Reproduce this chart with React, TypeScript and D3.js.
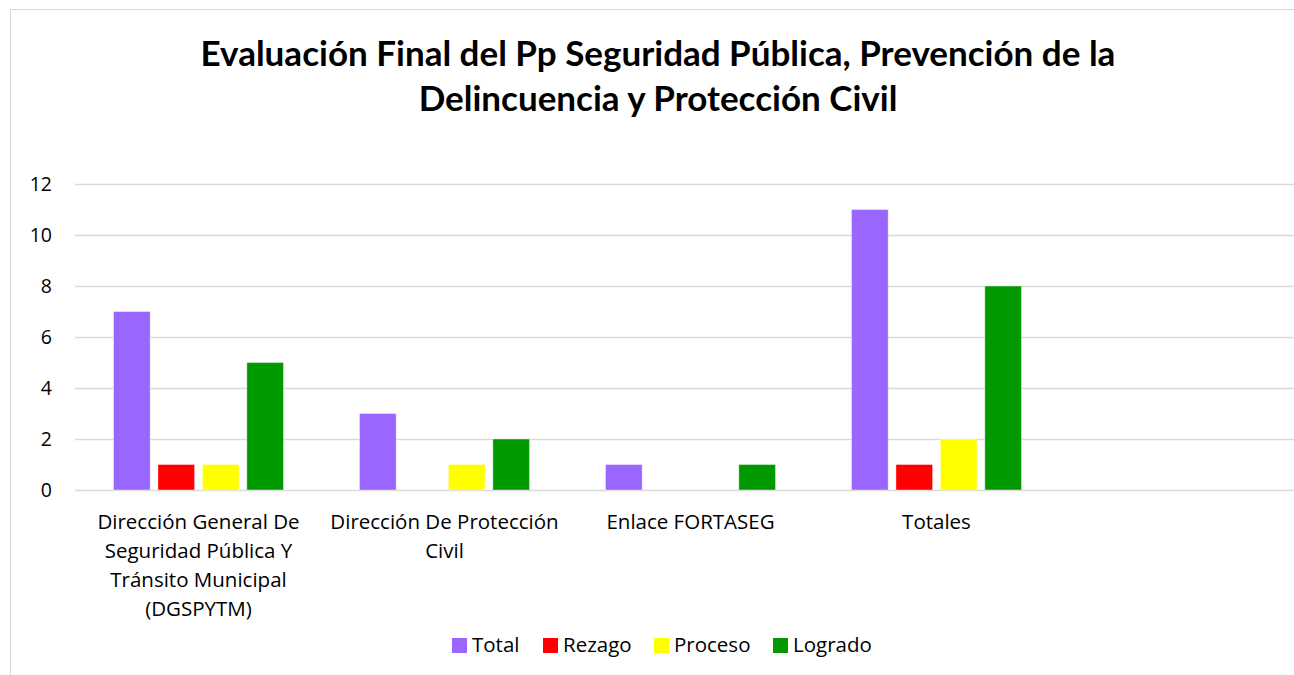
import React, { useRef, useEffect } from 'react';
import * as d3 from 'd3';

const categories = [
  'Dirección General De Seguridad Pública Y Tránsito Municipal (DGSPYTM)',
  'Dirección De Protección Civil',
  'Enlace FORTASEG',
  'Totales',
  '',
];
// wrapped tick labels, as on the picture
const categoryLines = [
  ['Dirección General De', 'Seguridad Pública Y', 'Tránsito Municipal', '(DGSPYTM)'],
  ['Dirección De Protección', 'Civil'],
  ['Enlace FORTASEG'],
  ['Totales'],
  [],
];
const seriesNames = ['Total', 'Rezago', 'Proceso', 'Logrado'];
const seriesColors = ['#9966FF', '#FF0000', '#FFFF00', '#009900'];
const totalValues = [7, 3, 1, 11];
const rezagoValues = [1, 0, 0, 1];
const procesoValues = [1, 1, 0, 2];
const logradoValues = [5, 2, 1, 8];
const yTicks = [0, 2, 4, 6, 8, 10, 12];
const titleLines = [
  'Evaluación Final del Pp Seguridad Pública, Prevención de la',
  'Delincuencia y Protección Civil',
];

const W = 1294;
const H = 675;
const FONT = '"Open Sans", sans-serif';
const TITLE_FONT = 'Lato, "Open Sans", sans-serif';

const App = () => {
  const svgRef = useRef<SVGSVGElement>(null);

  useEffect(() => {
    const svg = d3.select(svgRef.current);
    svg.selectAll('*').remove();

    const values = [totalValues, rezagoValues, procesoValues, logradoValues];

    // chart frame (cut off on the right and bottom)
    svg.append('rect')
      .attr('x', 10.5).attr('y', 9.5)
      .attr('width', W + 20).attr('height', H + 20)
      .attr('fill', '#fff')
      .attr('stroke', '#d9d9d9');

    // title
    svg.append('text')
      .attr('text-anchor', 'middle')
      .attr('font-family', TITLE_FONT)
      .attr('font-weight', 'bold')
      .attr('font-size', 35)
      .attr('fill', '#000')
      .selectAll('tspan')
      .data(titleLines)
      .enter().append('tspan')
      .attr('x', 658)
      .attr('y', (d, i) => 66 + i * 45)
      .text(d => d);

    const y = d3.scaleLinear().domain([0, 12]).range([490, 184]);
    const x0 = d3.scaleBand().domain(categories.map((c, i) => String(i))).range([75.5, 1305.5]);
    const x1 = d3.scaleBand().domain(seriesNames).range([38, 208]).paddingInner(0.175);

    // gridlines
    svg.append('g')
      .selectAll('line')
      .data(yTicks)
      .enter().append('line')
      .attr('x1', 75).attr('x2', W)
      .attr('y1', d => Math.round(y(d)) + 0.5)
      .attr('y2', d => Math.round(y(d)) + 0.5)
      .attr('stroke', '#d9d9d9')
      .attr('stroke-width', 1.3);

    // y tick labels
    svg.append('g')
      .selectAll('text')
      .data(yTicks)
      .enter().append('text')
      .attr('x', 52)
      .attr('y', d => y(d) + 7)
      .attr('text-anchor', 'end')
      .attr('font-family', FONT)
      .attr('font-size', 19.5)
      .attr('fill', '#000')
      .text(d => d);

    // bars
    const groups = svg.append('g')
      .selectAll('g')
      .data(categories.slice(0, 4))
      .enter().append('g')
      .attr('transform', (d, i) => `translate(${x0(String(i))},0)`);

    groups.selectAll('rect')
      .data((d, i) => seriesNames.map((s, k) => ({ s, k, v: values[k][i] })).filter(e => e.v > 0))
      .enter().append('rect')
      .attr('x', d => x1(d.s)!)
      .attr('width', x1.bandwidth())
      .attr('y', d => y(d.v))
      .attr('height', d => y(0) - y(d.v))
      .attr('fill', d => seriesColors[d.k])
      .attr('stroke', '#fff')
      .attr('stroke-opacity', 0.5)
      .attr('stroke-width', 0.8);

    // category labels
    const catLabels = svg.append('g')
      .selectAll('text')
      .data(categoryLines)
      .enter().append('text')
      .attr('text-anchor', 'middle')
      .attr('font-family', FONT)
      .attr('font-size', 20.5)
      .attr('fill', '#000');
    catLabels.each(function (lines, i) {
      const cx = x0(String(i))! + x0.bandwidth() / 2;
      d3.select(this).selectAll('tspan')
        .data(lines)
        .enter().append('tspan')
        .attr('x', cx)
        .attr('y', (d, j) => 529 + j * 29)
        .text(d => d);
    });

    // legend
    const legendX = [452, 543, 654, 773];
    const legend = svg.append('g')
      .selectAll('g')
      .data(seriesNames)
      .enter().append('g')
      .attr('transform', (d, i) => `translate(${legendX[i]},638)`);
    legend.append('rect')
      .attr('width', 15).attr('height', 15)
      .attr('fill', (d, i) => seriesColors[i]);
    legend.append('text')
      .attr('x', 20).attr('y', 14)
      .attr('font-family', FONT)
      .attr('font-size', 20.5)
      .attr('fill', '#000')
      .text(d => d);
  }, []);

  return (
    <svg ref={svgRef} width={W} height={H} style={{ position: 'absolute', left: 0, top: 0, background: '#fff' }} />
  );
};

export default App;
